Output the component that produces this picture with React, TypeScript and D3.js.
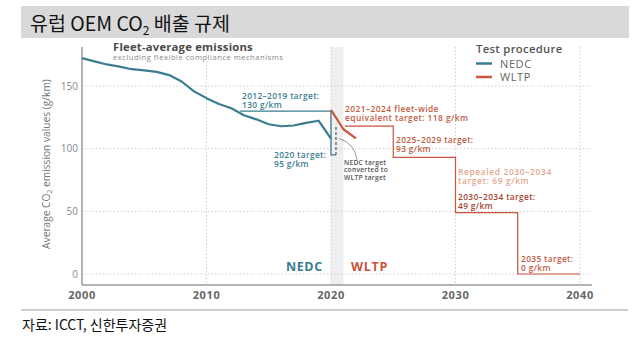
import React from "react";
import * as d3 from "d3";

const nedcYears = [2000, 2001, 2002, 2003, 2004, 2005, 2006, 2007, 2008, 2009, 2010, 2011, 2012, 2013, 2014, 2015, 2016, 2017, 2018, 2019, 2020];
const nedcValues = [172.2, 169.7, 167.2, 165.5, 163.4, 162.4, 161.3, 158.7, 153.6, 145.7, 140.3, 135.7, 132.2, 126.7, 123.4, 119.5, 117.9, 118.5, 120.6, 122.3, 108];
const wltpYears = [2020, 2021, 2022];
const wltpValues = [131, 115.5, 108.2];

// NEDC target step line
const nedcTargetYears = [2012.7, 2020, 2020, 2020.4];
const nedcTargetValues = [130, 130, 95, 95];
const convertedYears = [2020.4, 2020.4];
const convertedValues = [95, 119];
// WLTP target steps
const wltpTargetYears = [2021.1, 2025, 2025, 2030, 2030, 2035, 2035, 2040];
const wltpTargetValues = [118, 118, 93, 93, 49, 49, 0, 0];

const xTicks = [2000, 2010, 2020, 2030, 2040];
const yTicks = [0, 50, 100, 150];

const TEAL = "#3b7c90";
const RED = "#c8553c";
const RED_TXT = "#c25a43";
const FONT = "'Open Sans', 'DejaVu Sans', sans-serif";

export default function App() {
  const x = d3.scaleLinear().domain([2000, 2040]).range([82, 580]);
  const y = d3.scaleLinear().domain([0, 150]).range([274, 86]);
  const plotTop = 47;
  const plotBottom = 285;
  const plotRight = 592;

  const line = (xs: number[], ys: number[]) =>
    d3.line<number>().x((_, i) => x(xs[i])).y((v) => y(v))(ys) || "";

  const annot = (tx: number, ty: number, lines: string[], color: string, size = 8.4, lh = 9.2, ls = 0.35) => (
    <text x={tx} y={ty} fill={color} fontSize={size} fontWeight={600} fontFamily={FONT} letterSpacing={ls}>
      {lines.map((l, i) => (
        <tspan key={i} x={tx} dy={i === 0 ? 0 : lh}>{l}</tspan>
      ))}
    </text>
  );

  return (
    <svg width={643} height={339} style={{ position: "absolute", left: 0, top: 0, background: "#fff" }}>
      {/* title bar */}
      <rect x={21} y={6} width={608} height={32} fill="#d9d9d9" />
      <text x={30} y={31} fontSize={19.5} fontFamily="'Noto Sans CJK KR', sans-serif" fill="#111">
        유럽 OEM CO<tspan fontSize={12} dy={4}>2</tspan><tspan dy={-4}> 배출 규제</tspan>
      </text>

      {/* shaded band 2020-2021 */}
      <rect x={x(2020)} y={plotTop} width={x(2021) - x(2020)} height={plotBottom - plotTop} fill="#efefef" />

      {/* gridlines */}
      {yTicks.map((t) => (
        <line key={"gy" + t} x1={x(2000)} x2={plotRight} y1={y(t)} y2={y(t)} stroke="#cfcfcf" strokeWidth={1} strokeDasharray="1.5,2" />
      ))}
      {xTicks.slice(1).map((t) => (
        <line key={"gx" + t} x1={x(t)} x2={x(t)} y1={plotTop} y2={plotBottom} stroke="#cfcfcf" strokeWidth={1} strokeDasharray="1.5,2" />
      ))}

      {/* axes */}
      <line x1={x(2000)} x2={x(2000)} y1={plotTop} y2={plotBottom} stroke="#9a9a9a" strokeWidth={1.5} />
      <line x1={x(2000)} x2={plotRight} y1={plotBottom} y2={plotBottom} stroke="#9a9a9a" strokeWidth={1.5} />
      {xTicks.map((t) => (
        <text key={"xt" + t} x={x(t)} y={299} textAnchor="middle" fontSize={11} fontWeight={700} fill="#666" fontFamily={FONT} letterSpacing={0.6}>{t}</text>
      ))}
      {yTicks.map((t) => (
        <text key={"yt" + t} x={78} y={y(t) + 3.5} textAnchor="end" fontSize={10} fill="#888" fontFamily={FONT}>{t}</text>
      ))}
      <text transform={`translate(50,${164}) rotate(-90)`} textAnchor="middle" fontSize={10.2} fill="#777" fontFamily={FONT}>
        Average CO<tspan fontSize={6.8} dy={2}>2</tspan><tspan dy={-2}> emission values (g/km)</tspan>
      </text>

      {/* target lines */}
      <path d={line(nedcTargetYears, nedcTargetValues)} fill="none" stroke={TEAL} strokeWidth={1.3} />
      <path d={line(convertedYears, convertedValues)} fill="none" stroke="#555" strokeWidth={1.2} strokeDasharray="3,2" />
      <path d={line(wltpTargetYears, wltpTargetValues)} fill="none" stroke={RED} strokeWidth={1.2} />

      {/* emission series */}
      <path d={line(nedcYears, nedcValues)} fill="none" stroke={TEAL} strokeWidth={2.2} strokeLinejoin="round" />
      <path d={line(wltpYears, wltpValues)} fill="none" stroke={RED} strokeWidth={2.2} strokeLinejoin="round" />

      {/* curved pointer */}
      <path d={`M${x(2020.7)},${y(108)} Q${x(2021.9)},${y(104)} ${x(2022.1)},${y(91)}`} fill="none" stroke="#666" strokeWidth={0.7} />

      {/* headings */}
      <text x={113} y={51} fontSize={11.3} fontWeight={700} fill="#4a4a4a" fontFamily={FONT} letterSpacing={0.2}>Fleet-average emissions</text>
      <text x={113} y={60} fontSize={7.6} fill="#888" fontFamily={FONT} letterSpacing={0.5}>excluding flexible compliance mechanisms</text>

      {annot(242, 98.5, ["2012–2019 target:", "130 g/km"], TEAL)}
      {annot(274, 157.5, ["2020 target:", "95 g/km"], TEAL)}
      {annot(344, 165, ["NEDC target", "converted to", "WLTP target"], "#555", 6.7, 7.4, 0.25)}
      {annot(345, 112, ["2021–2024 fleet-wide", "equivalent target: 118 g/km"], RED_TXT, 8.4, 9.2, 0.45)}
      {annot(396, 143, ["2025–2029 target:", "93 g/km"], RED_TXT)}
      {annot(458, 175, ["Repealed 2030–2034", "target: 69 g/km"], "#dfa88e", 8.4, 9.2, 0.65)}
      {annot(458, 199.5, ["2030–2034 target:", "49 g/km"], "#a5452f")}
      {annot(521, 261.5, ["2035 target:", "0 g/km"], RED_TXT)}

      <text x={286} y={271} fontSize={12.5} fontWeight={700} fill={TEAL} fontFamily={FONT} letterSpacing={0.6}>NEDC</text>
      <text x={351} y={271} fontSize={12.5} fontWeight={700} fill={RED} fontFamily={FONT} letterSpacing={0.7}>WLTP</text>

      {/* legend */}
      <text x={476} y={53} fontSize={11.3} fontWeight={600} fill="#555" fontFamily={FONT} letterSpacing={0.3}>Test procedure</text>
      <line x1={476} x2={492} y1={63.5} y2={63.5} stroke={TEAL} strokeWidth={2.5} />
      <text x={500} y={67.5} fontSize={11} fill="#666" fontFamily={FONT} letterSpacing={0.6}>NEDC</text>
      <line x1={476} x2={492} y1={77} y2={77} stroke={RED} strokeWidth={2.5} />
      <text x={500} y={81} fontSize={11} fill="#666" fontFamily={FONT} letterSpacing={0.6}>WLTP</text>

      {/* footer */}
      <line x1={21} x2={628} y1={310} y2={310} stroke="#999" strokeWidth={1} />
      <text x={22} y={330} fontSize={14} fontFamily="'Noto Sans CJK KR', sans-serif" fill="#111">자료: ICCT, 신한투자증권</text>
    </svg>
  );
}
